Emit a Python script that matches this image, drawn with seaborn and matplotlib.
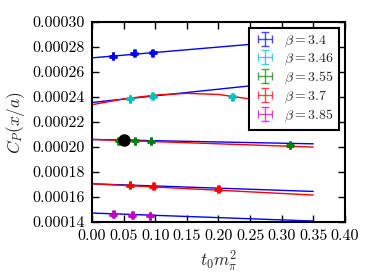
import matplotlib
matplotlib.use("Agg")
import matplotlib.pyplot as plt
from matplotlib.ticker import FormatStrFormatter, MultipleLocator
from matplotlib.lines import Line2D
from matplotlib.collections import LineCollection
import seaborn as sns

sns.set_style("ticks", {"xtick.direction": "in", "ytick.direction": "in"})
plt.rcParams['font.family'] = ['cmr10', 'DejaVu Serif']
plt.rcParams['mathtext.fontset'] = 'cm'
plt.rcParams['axes.formatter.use_mathtext'] = True
plt.rcParams['axes.unicode_minus'] = False

# data points
betas = ["3.4", "3.46", "3.55", "3.7", "3.85"]
colors = ["b", "c", "g", "r", "m"]

x_34 = [0.033, 0.067, 0.096]
y_34 = [0.0002728, 0.0002750, 0.0002754]
x_346 = [0.060, 0.096, 0.222]
y_346 = [0.0002387, 0.0002408, 0.0002402]
x_355 = [0.042, 0.068, 0.093, 0.313]
y_355 = [0.0002050, 0.0002052, 0.0002048, 0.0002013]
x_37 = [0.060, 0.097, 0.200]
y_37 = [0.0001696, 0.0001688, 0.0001664]
x_385 = [0.034, 0.064, 0.092]
y_385 = [0.0001464, 0.0001456, 0.0001452]

xerr_pts = 0.0004
yerr_pts = 0.0000004

# black point
x_phys = [0.050]
y_phys = [0.000206]

# fit curves
fit_x = [0.0, 0.35]
blue_34 = [0.0002714, 0.0002865]
blue_346 = [0.0002357, 0.0002543]
blue_355 = [0.0002061, 0.0002026]
red_355 = [0.0002061, 0.0002000]
blue_37 = [0.0001706, 0.0001645]
red_37 = [0.0001706, 0.0001616]
blue_385 = [0.0001472, 0.0001408]

red_346_x = [0.0, 0.05, 0.10, 0.15, 0.20, 0.25, 0.30, 0.35]
red_346_y = [0.0002339, 0.0002385, 0.0002416, 0.0002430, 0.0002421, 0.0002385, 0.0002330, 0.0002260]

fig = plt.figure(figsize=(3.74, 2.8), dpi=100)
ax = fig.add_axes([0.246, 0.207, 0.676, 0.714])

for yy in [blue_34, blue_346, blue_355, blue_37, blue_385]:
    sns.lineplot(x=fit_x, y=yy, color="b", lw=1.0, ax=ax)
sns.lineplot(x=red_346_x, y=red_346_y, color="r", lw=1.0, sort=False, ax=ax)
sns.lineplot(x=fit_x, y=red_355, color="r", lw=1.0, ax=ax)
sns.lineplot(x=fit_x, y=red_37, color="r", lw=1.0, ax=ax)

sets = [(x_34, y_34), (x_346, y_346), (x_355, y_355), (x_37, y_37), (x_385, y_385)]
for (xs, ys), b, c in zip(sets, betas, colors):
    ax.errorbar(xs, ys, xerr=xerr_pts, yerr=yerr_pts, fmt="none", ecolor=c,
                elinewidth=2, capsize=3.2, capthick=2,
                label=r"$\beta = %s$" % b)

ax.plot(x_phys, y_phys, "o", color="black", markersize=8)

ax.set_xlim(0.0, 0.40)
ax.set_ylim(0.00014, 0.00030)
ax.xaxis.set_major_locator(MultipleLocator(0.05))
ax.yaxis.set_major_locator(MultipleLocator(0.00002))
ax.xaxis.set_major_formatter(FormatStrFormatter("%.2f"))
ax.yaxis.set_major_formatter(FormatStrFormatter("%.5f"))
ax.tick_params(which="both", direction="in", top=True, right=True,
               length=5, width=1, labelsize=11.5, colors="black", pad=5)
for s in ax.spines.values():
    s.set_linewidth(1.5)
    s.set_color("black")

ax.set_xlabel(r"$t_0 m_\pi^2$", fontsize=12.5)
ax.set_ylabel(r"$C_P(x/a)$", fontsize=12.5)

leg = ax.legend(loc="upper right", fontsize=10, fancybox=False, framealpha=1,
                edgecolor="black", borderaxespad=0.4, labelspacing=0.22,
                handlelength=1.4, handletextpad=0.7, borderpad=0.4)
leg.get_frame().set_linewidth(1.5)
# thinner, lighter error bar handles in the legend
for art in leg.findobj(LineCollection):
    art.set_linewidth(1.0)
    art.set_alpha(0.7)
for art in leg.findobj(Line2D):
    art.set_markeredgewidth(1.0)
    art.set_alpha(0.7)

fig.savefig("out.png", dpi=100)
